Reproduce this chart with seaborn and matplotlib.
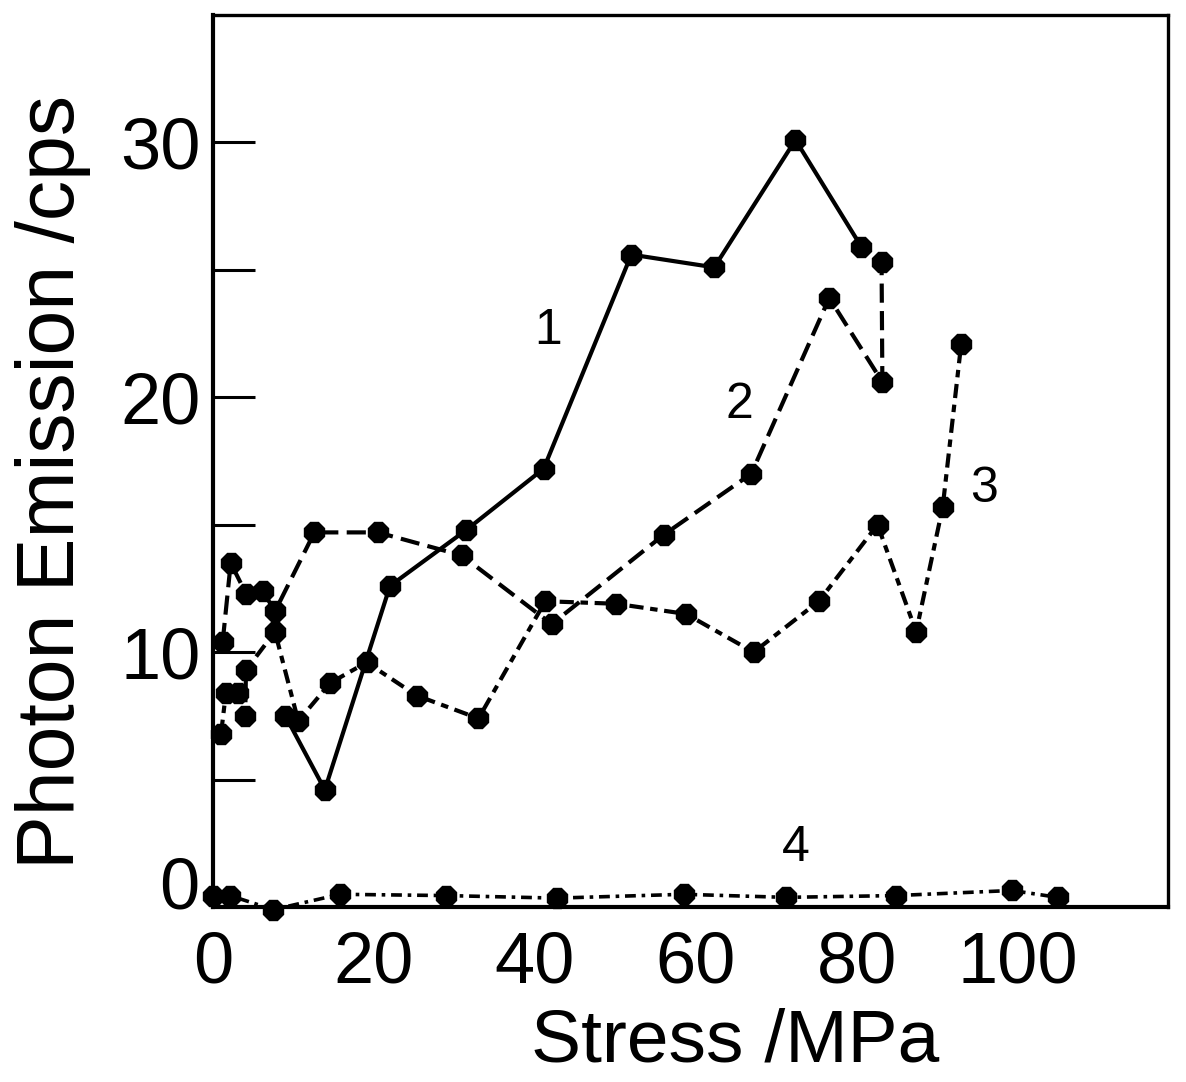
import numpy as np
import pandas as pd
import matplotlib
matplotlib.use("Agg")
import matplotlib.pyplot as plt
import seaborn as sns

# ---- data ----
c1_x = [9.0, 13.9, 22.0, 31.5, 41.1, 52.0, 62.3, 72.4, 80.6]
c1_y = [7.5, 4.6, 12.6, 14.8, 17.2, 25.6, 25.1, 30.1, 25.9]

c2_x = [1.2, 2.2, 4.1, 6.2, 7.7, 12.6, 20.5, 30.9, 42.1, 56.0, 66.9, 76.6, 83.2, 83.1]
c2_y = [10.4, 13.5, 12.3, 12.4, 11.6, 14.7, 14.7, 13.8, 11.1, 14.6, 17.0, 23.9, 20.6, 25.3]

c3_x = [1.0, 1.6, 3.1, 4.0, 4.1, 7.7, 10.6, 14.6, 19.1, 25.3, 33.0, 41.3, 50.1,
        58.8, 67.2, 75.3, 82.6, 87.4, 90.7, 93.0]
c3_y = [6.8, 8.4, 8.4, 7.5, 9.3, 10.8, 7.3, 8.8, 9.6, 8.3, 7.4, 12.0, 11.9,
        11.5, 10.0, 12.0, 15.0, 10.8, 15.7, 22.1]

c4_x = [0.0, 2.1, 7.5, 15.8, 29.0, 42.7, 58.5, 71.2, 84.9, 99.3, 105.0]
c4_y = [0.45, 0.45, -0.1, 0.5, 0.45, 0.35, 0.5, 0.38, 0.45, 0.65, 0.38]

curve_labels = ["1", "2", "3", "4"]
label_x = [41.7, 65.4, 95.9, 72.5]
label_y = [22.6, 19.7, 16.4, 2.3]

x_ticks = [0, 20, 40, 60, 80, 100]
y_ticks = [10, 20, 30]
x_label = "Stress /MPa"
y_label = "Photon Emission /cps"

# ---- style ----
sns.set_theme(style="white")
plt.rcParams["font.family"] = ["Liberation Sans", "DejaVu Sans"]

fig = plt.figure(figsize=(11.86, 10.82), dpi=100)
ax = fig.add_axes([0.1796, 0.1617, 0.8052, 0.8244])

styles = [
    dict(linestyle="-", lw=3.0),
    dict(linestyle=(0, (4.6, 2.0)), lw=3.0),
    dict(linestyle=(0, (3.4, 1.6, 1.8, 1.6)), lw=3.0),
    dict(linestyle=(0, (3.0, 1.6, 1.0, 1.6)), lw=2.6),
]
curves = [(c1_x, c1_y), (c2_x, c2_y), (c3_x, c3_y), (c4_x, c4_y)]
for (xs, ys), st in zip(curves, styles):
    df = pd.DataFrame({"x": xs, "y": ys})
    sns.lineplot(data=df, x="x", y="y", ax=ax, sort=False, estimator=None,
                 color="black", marker="8", markersize=15, mec="black",
                 mfc="black", mew=1, clip_on=False, **st)

for t, lx, ly in zip(curve_labels, label_x, label_y):
    ax.text(lx, ly, t, fontsize=36, ha="center", va="center", color="black")

ax.set_xlim(0, 118.7)
ax.set_ylim(0, 35)

ax.set_xticks(x_ticks)
ax.set_xticks([40, 80], minor=True)
ax.set_yticks(y_ticks)
ax.set_yticks([5, 15, 25], minor=True)
ax.tick_params(axis="x", which="major", length=0, pad=17, labelsize=52,
               colors="black", bottom=True)
ax.tick_params(axis="x", which="minor", direction="in", length=26, width=2.2,
               color="black", bottom=True)
ax.tick_params(axis="y", which="both", direction="in", length=30, width=2.2,
               pad=9, labelsize=52, color="black", labelcolor="black", left=True)

# y "0" label sits slightly above the axis line in the reference
ax.text(-0.014, 0.68, "0", transform=ax.get_yaxis_transform(), ha="right",
        va="center", fontsize=52, color="black")

for s in ax.spines.values():
    s.set_color("black")
    s.set_linewidth(2.4)
ax.spines["left"].set_linewidth(3.0)
ax.spines["bottom"].set_linewidth(3.0)

ax.set_xlabel(x_label, fontsize=54, color="black")
ax.set_ylabel(y_label, fontsize=58, color="black")
ax.xaxis.set_label_coords(0.547, -0.113)
ax.yaxis.set_label_coords(-0.128, 0.476)

fig.savefig("out.png", dpi=100, facecolor="white")
